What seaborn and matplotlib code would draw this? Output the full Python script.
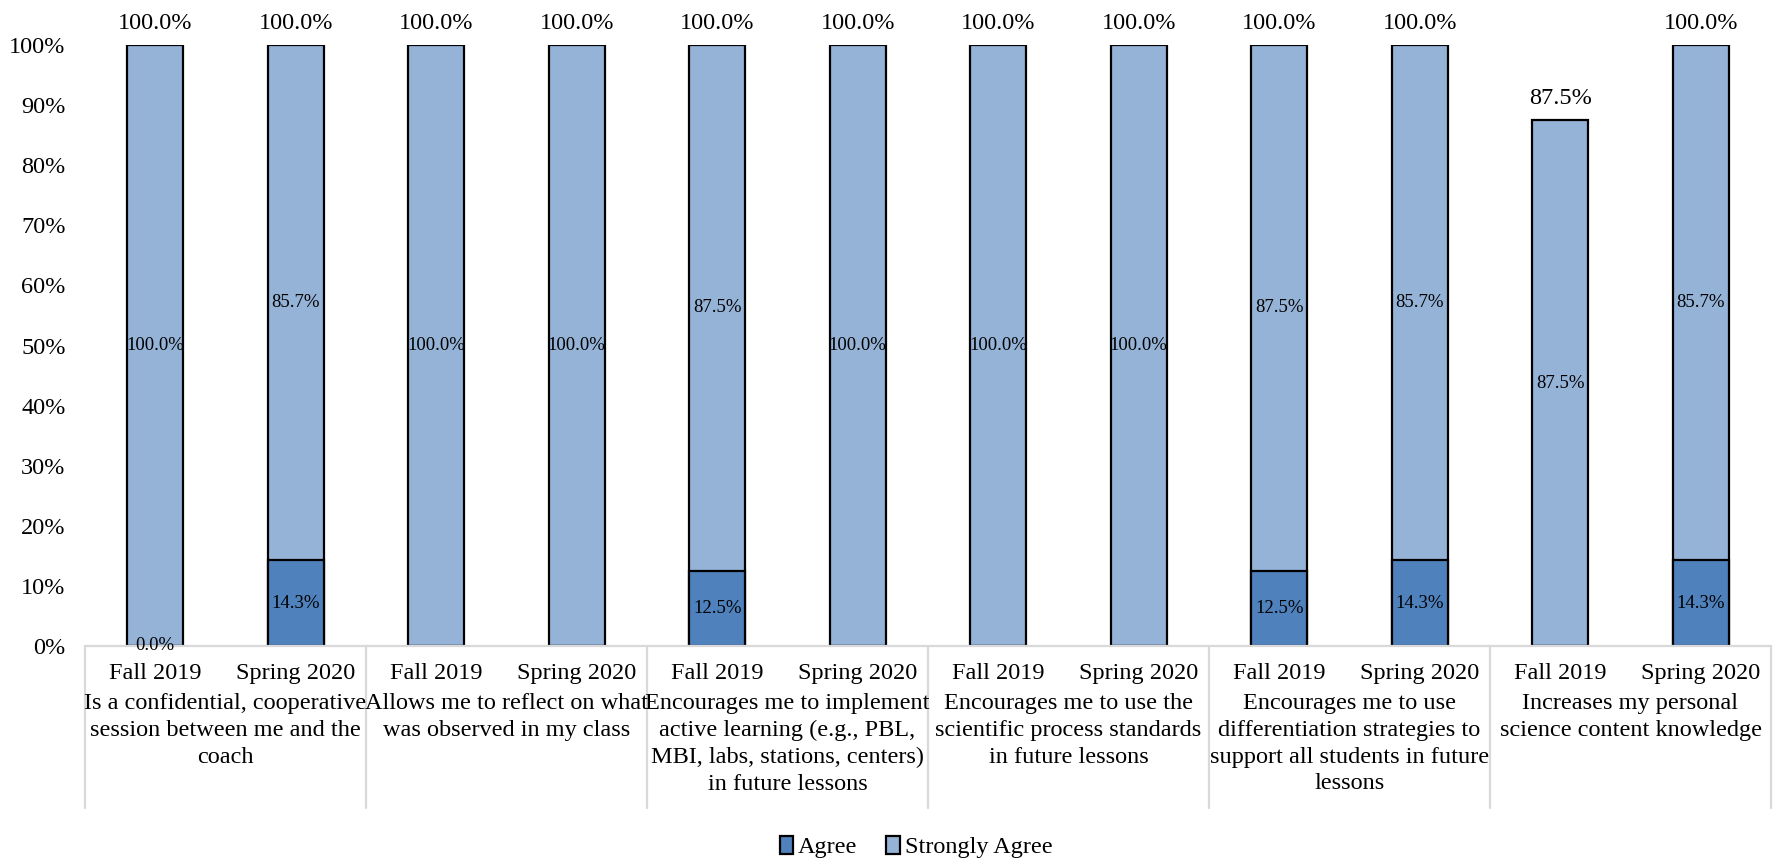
import numpy as np
import pandas as pd
import matplotlib
matplotlib.use("Agg")
import matplotlib.pyplot as plt
import matplotlib.transforms as mtransforms
import seaborn as sns

# data
groups = [
    "Is a confidential, cooperative\nsession between me and the\ncoach",
    "Allows me to reflect on what\nwas observed in my class",
    "Encourages me to implement\nactive learning (e.g., PBL,\nMBI, labs, stations, centers)\nin future lessons",
    "Encourages me to use the\nscientific process standards\nin future lessons",
    "Encourages me to use\ndifferentiation strategies to\nsupport all students in future\nlessons",
    "Increases my personal\nscience content knowledge",
]
periods = ["Fall 2019", "Spring 2020"]
agree = [0.0, 0.143, None, None, 0.125, None, None, None, 0.125, 0.143, None, 0.143]
strongly_agree = [1.0, 0.857, 1.0, 1.0, 0.875, 1.0, 1.0, 1.0, 0.875, 0.857, 0.875, 0.857]

c_agree = "#4F81BD"
c_sa = "#95B3D7"

keys = [f"{g}|{p}" for g in range(len(groups)) for p in periods]
df = pd.DataFrame({
    "key": keys,
    "period": [p for g in groups for p in periods],
    "agree": [np.nan if a is None else a for a in agree],
    "strongly_agree": strongly_agree,
})
df["agree_plot"] = df["agree"].fillna(0)
df["total"] = df["agree_plot"] + df["strongly_agree"]

sns.set_theme(style="white")
plt.rcParams["font.family"] = ["Liberation Serif", "DejaVu Serif"]
plt.rcParams["text.color"] = "black"
plt.rcParams["xtick.color"] = "black"
plt.rcParams["ytick.color"] = "black"

fs = 17.5
fig = plt.figure(figsize=(17.79, 8.61), dpi=100)
ax = fig.add_axes([85 / 1779, 1 - 646 / 861, (1771 - 85) / 1779, (646 - 45) / 861])

sns.barplot(data=df, x="key", y="total", order=keys, color=c_sa, saturation=1,
            width=0.4, edgecolor="black", linewidth=1.6, errorbar=None,
            label="Strongly Agree", ax=ax)
sns.barplot(data=df, x="key", y="agree_plot", order=keys, color=c_agree, saturation=1,
            width=0.4, edgecolor="black", linewidth=1.6, errorbar=None,
            label="Agree", ax=ax)
if ax.get_legend() is not None:
    ax.get_legend().remove()

sa_bars = ax.containers[0]
ag_bars = ax.containers[1]

# totals above each bar
ax.bar_label(sa_bars, labels=[f"{t:.1%}" for t in df["total"]], padding=8,
             fontsize=fs, clip_on=False)
# agree labels centered in segment
ax.bar_label(ag_bars, labels=["" if pd.isna(a) else f"{a:.1%}" for a in df["agree"]],
             label_type="center", fontsize=13.5)
# strongly agree labels centered in their segment
for patch, a, s in zip(sa_bars.patches, df["agree_plot"], df["strongly_agree"]):
    xc = patch.get_x() + patch.get_width() / 2
    ax.text(xc, a + s / 2, f"{s:.1%}", ha="center", va="center", fontsize=13.5)

ax.set_ylim(0, 1)
ax.set_xlim(-0.5, len(keys) - 0.5)
ax.set_yticks(np.arange(0, 1.01, 0.1))
ax.set_yticklabels([f"{v:.0%}" for v in np.arange(0, 1.01, 0.1)])
ax.set_xticks(range(len(keys)))
ax.set_xticklabels(df["period"])
ax.tick_params(axis="y", length=0, pad=14, labelsize=fs)
ax.tick_params(axis="x", length=0, pad=12, labelsize=fs)
ax.set_xlabel("")
ax.set_ylabel("")
for side in ["left", "right", "top"]:
    ax.spines[side].set_visible(False)
ax.spines["bottom"].set_color("#D9D9D9")
ax.spines["bottom"].set_linewidth(1.6)

# group separators and group labels
trans = mtransforms.blended_transform_factory(ax.transData, ax.transAxes)
sep_bottom = -(808 - 646) / 601
for i in range(len(groups) + 1):
    xb = i * len(periods) - 0.5
    ax.plot([xb, xb], [0, sep_bottom], color="#D9D9D9", lw=1.6,
            transform=trans, clip_on=False)
label_top = -(693 - 646) / 601
for i, g in enumerate(groups):
    xc = i * len(periods) + (len(periods) - 1) / 2
    ax.text(xc, label_top, g, transform=trans, ha="center", va="top",
            fontsize=fs, linespacing=1.36)

handles, labels = ax.get_legend_handles_labels()
order = [labels.index("Agree"), labels.index("Strongly Agree")]
fig.legend([handles[i] for i in order], [labels[i] for i in order],
           loc="center", bbox_to_anchor=(916 / 1779, 1 - 847 / 861), ncol=2,
           frameon=False, fontsize=fs, handlelength=0.55, handleheight=0.8,
           handletextpad=0.2, columnspacing=1.2)

fig.savefig("out.png", dpi=100)
